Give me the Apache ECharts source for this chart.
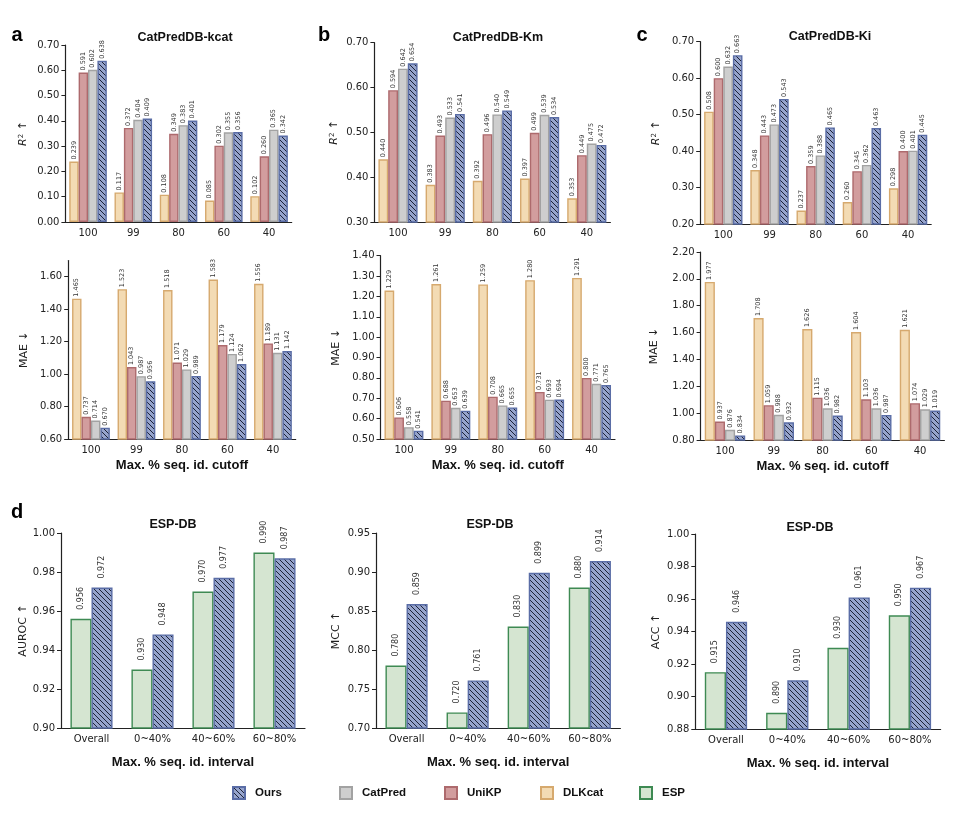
<!DOCTYPE html>
<html>
<head>
<meta charset="utf-8">
<script src="https://cdn.jsdelivr.net/npm/echarts@6/dist/echarts.min.js"></script>
<style>
  html, body { margin: 0; padding: 0; background: #fff; }
  #main { width: 960px; height: 818px; }
</style>
</head>
<body>
<div id="main"></div>
<script>
// categories
var cutoffs = ['100', '99', '80', '60', '40'];
var intervals = ['Overall', '0~40%', '40~60%', '60~80%'];

// rows in order: DLKcat, UniKP, CatPred, Ours
var kcatR2 = [
  [0.239, 0.117, 0.108, 0.085, 0.102],
  [0.591, 0.372, 0.349, 0.302, 0.260],
  [0.602, 0.404, 0.383, 0.355, 0.365],
  [0.638, 0.409, 0.401, 0.356, 0.342]
];
var kcatMAE = [
  [1.465, 1.523, 1.518, 1.583, 1.556],
  [0.737, 1.043, 1.071, 1.179, 1.189],
  [0.714, 0.987, 1.029, 1.124, 1.131],
  [0.670, 0.956, 0.989, 1.062, 1.142]
];
var kmR2 = [
  [0.440, 0.383, 0.392, 0.397, 0.353],
  [0.594, 0.493, 0.496, 0.499, 0.449],
  [0.642, 0.533, 0.540, 0.539, 0.475],
  [0.654, 0.541, 0.549, 0.534, 0.472]
];
var kmMAE = [
  [1.229, 1.261, 1.259, 1.280, 1.291],
  [0.606, 0.688, 0.708, 0.731, 0.800],
  [0.558, 0.653, 0.665, 0.693, 0.771],
  [0.541, 0.639, 0.655, 0.694, 0.765]
];
var kiR2 = [
  [0.508, 0.348, 0.237, 0.260, 0.298],
  [0.600, 0.443, 0.359, 0.345, 0.400],
  [0.632, 0.473, 0.388, 0.362, 0.401],
  [0.663, 0.543, 0.465, 0.463, 0.445]
];
var kiMAE = [
  [1.977, 1.708, 1.626, 1.604, 1.621],
  [0.937, 1.059, 1.115, 1.103, 1.074],
  [0.876, 0.988, 1.036, 1.036, 1.029],
  [0.834, 0.932, 0.982, 0.987, 1.019]
];
// rows: ESP, Ours
var espAUROC = [
  [0.956, 0.930, 0.970, 0.990],
  [0.972, 0.948, 0.977, 0.987]
];
var espMCC = [
  [0.780, 0.720, 0.830, 0.880],
  [0.859, 0.761, 0.899, 0.914]
];
var espACC = [
  [0.915, 0.890, 0.930, 0.950],
  [0.946, 0.910, 0.961, 0.967]
];

// tick labels
var ticksKcatR2 = [0, 0.1, 0.2, 0.3, 0.4, 0.5, 0.6, 0.7];
var ticksKcatMAE = [0.6, 0.8, 1.0, 1.2, 1.4, 1.6];
var ticksKmR2 = [0.3, 0.4, 0.5, 0.6, 0.7];
var ticksKmMAE = [0.5, 0.6, 0.7, 0.8, 0.9, 1.0, 1.1, 1.2, 1.3, 1.4];
var ticksKiR2 = [0.2, 0.3, 0.4, 0.5, 0.6, 0.7];
var ticksKiMAE = [0.8, 1.0, 1.2, 1.4, 1.6, 1.8, 2.0, 2.2];
var ticksAUROC = [0.90, 0.92, 0.94, 0.96, 0.98, 1.00];
var ticksMCC = [0.70, 0.75, 0.80, 0.85, 0.90, 0.95];
var ticksACC = [0.88, 0.90, 0.92, 0.94, 0.96, 0.98, 1.00];

// hatch for "Ours"
function hatch() {
  var s = 5;
  var c = document.createElement('canvas');
  c.width = s; c.height = s;
  var ctx = c.getContext('2d');
  ctx.fillStyle = '#96a4cc';
  ctx.fillRect(0, 0, s, s);
  ctx.strokeStyle = '#1c2238';
  ctx.lineWidth = 1;
  ctx.beginPath();
  [-s, 0, s].forEach(function (k) {
    ctx.moveTo(k, 0);
    ctx.lineTo(k + s, s);
  });
  ctx.stroke();
  return c;
}

var styles = {
  DLKcat: { color: '#f3dbb4', borderColor: '#d6a96e' },
  UniKP: { color: '#d29d9e', borderColor: '#ad6a6d' },
  CatPred: { color: '#cecece', borderColor: '#a2a2a2' },
  Ours: { color: { image: hatch(), repeat: 'repeat' }, borderColor: '#5a6da6' },
  ESP: { color: '#d5e5d1', borderColor: '#3e8a53' }
};

var tickFont = 'DejaVu Sans';
var boldFont = 'Liberation Sans';

var option = {
  animation: false,
  backgroundColor: '#fff',
  grid: [], xAxis: [], yAxis: [], series: [], legend: [], graphic: []
};

function addPanel(box, cats, rows, names, ticks, yName, nameGap, xName, xGap, opt) {
  var i = option.grid.length;
  option.grid.push({ left: box[0], top: box[1], width: box[2], height: box[3] });
  option.xAxis.push({
    type: 'category', gridIndex: i, data: cats,
    axisLine: { lineStyle: { color: '#222', width: 1.2 } },
    axisTick: { alignWithLabel: true, length: 4, lineStyle: { color: '#222' } },
    axisLabel: { color: '#222', fontFamily: tickFont, fontSize: opt.xFont, margin: 6 },
    name: xName, nameLocation: 'middle', nameGap: xGap,
    nameTextStyle: { fontFamily: boldFont, fontWeight: 'bold', fontSize: 13, color: '#111' }
  });
  option.yAxis.push({
    type: 'value', gridIndex: i,
    min: ticks[0], max: opt.max,
    axisLine: { show: true, lineStyle: { color: '#222', width: 1.2 } },
    axisTick: { show: true, length: 4, customValues: ticks, lineStyle: { color: '#222' } },
    axisLabel: {
      color: '#222', fontFamily: tickFont, fontSize: 10, margin: 6,
      customValues: ticks,
      formatter: function (v) { return v.toFixed(2); }
    },
    splitLine: { show: false },
    name: yName, nameLocation: 'middle', nameGap: nameGap,
    nameTextStyle: {
      fontFamily: tickFont, fontSize: 11, color: '#222',
      rich: { it: { fontFamily: tickFont, fontSize: 11, fontStyle: 'italic', color: '#222' },
              sup: { fontFamily: tickFont, fontSize: 7, color: '#222', verticalAlign: 'top' } }
    }
  });
  rows.forEach(function (vals, k) {
    var nm = names[k];
    option.series.push({
      type: 'bar', name: nm, xAxisIndex: i, yAxisIndex: i,
      data: vals,
      barGap: '0%', barCategoryGap: opt.gap,
      itemStyle: { color: styles[nm].color, borderColor: styles[nm].borderColor, borderWidth: 1.4 },
      label: {
        show: true, position: 'top', rotate: 90, align: 'left', verticalAlign: 'middle',
        distance: opt.labelDist, fontFamily: tickFont, fontSize: opt.labelFont, color: '#333',
        formatter: function (p) { return p.value.toFixed(3); }
      }
    });
  });
}

var four = ['DLKcat', 'UniKP', 'CatPred', 'Ours'];
var two = ['ESP', 'Ours'];
var xCut = 'Max. % seq. id. cutoff';
var xInt = 'Max. % seq. id. interval';
var r2Name = '{it|R}{sup|2} ↑';
var topOpt = { xFont: 10, gap: '17%', labelDist: 2, labelFont: 6.5 };

addPanel([65.4, 45, 226.3, 177], cutoffs, kcatR2, four, ticksKcatR2, r2Name, 37, '', 0,
  Object.assign({ max: 0.7 }, topOpt));
addPanel([68.2, 260.5, 227.5, 178.5], cutoffs, kcatMAE, four, ticksKcatMAE, 'MAE ↓', 39, xCut, 20,
  Object.assign({ max: 1.7 }, topOpt));
addPanel([374.4, 42.7, 236, 179.3], cutoffs, kmR2, four, ticksKmR2, r2Name, 35, '', 0,
  Object.assign({ max: 0.7 }, topOpt));
addPanel([380.5, 255.7, 234.5, 183.3], cutoffs, kmMAE, four, ticksKmMAE, 'MAE ↓', 39, xCut, 20,
  Object.assign({ max: 1.4 }, topOpt));
addPanel([700.2, 41.7, 231, 182.3], cutoffs, kiR2, four, ticksKiR2, r2Name, 39, '', 0,
  Object.assign({ max: 0.7 }, topOpt));
addPanel([700.6, 252, 243.8, 188], cutoffs, kiMAE, four, ticksKiMAE, 'MAE ↓', 41, xCut, 20,
  Object.assign({ max: 2.2 }, topOpt));

var dOpt = { xFont: 10, gap: '31%', labelDist: 9, labelFont: 8 };
addPanel([61, 533, 244, 195], intervals, espAUROC, two, ticksAUROC, 'AUROC ↑', 32, xInt, 28,
  Object.assign({ max: 1.0 }, dOpt));
addPanel([376, 533, 244.4, 195], intervals, espMCC, two, ticksMCC, 'MCC ↑', 34, xInt, 28,
  Object.assign({ max: 0.95 }, dOpt));
addPanel([695.3, 534, 245.3, 195], intervals, espACC, two, ticksACC, 'ACC ↑', 34, xInt, 28,
  Object.assign({ max: 1.0 }, dOpt));

// panel titles and letters
var titles = [
  ['CatPredDB-kcat', 185, 38], ['CatPredDB-Km', 498, 38], ['CatPredDB-Ki', 830, 37],
  ['ESP-DB', 173, 525], ['ESP-DB', 490, 525], ['ESP-DB', 810, 528]
];
titles.forEach(function (t) {
  option.graphic.push({
    type: 'text', x: t[1], y: t[2],
    style: { text: t[0], font: 'bold 12.5px "Liberation Sans"', fill: '#111',
             textAlign: 'center', textVerticalAlign: 'middle' }
  });
});
[['a', 17, 35], ['b', 324, 35], ['c', 642, 35], ['d', 17, 512]].forEach(function (t) {
  option.graphic.push({
    type: 'text', x: t[1], y: t[2],
    style: { text: t[0], font: 'bold 20px "Liberation Sans"', fill: '#000',
             textAlign: 'center', textVerticalAlign: 'middle' }
  });
});

// legend, one block per entry
[['Ours', 232], ['CatPred', 339], ['UniKP', 444], ['DLKcat', 540], ['ESP', 639]].forEach(function (l) {
  option.legend.push({
    data: [l[0]], left: l[1], top: 786, itemWidth: 12, itemHeight: 12, icon: 'rect',
    selectedMode: false, padding: 0,
    textStyle: { fontFamily: boldFont, fontWeight: 'bold', fontSize: 11.5, color: '#111',
                 padding: [0, 0, 0, 5] }
  });
});

var chart = echarts.init(document.getElementById('main'));
chart.setOption(option);
</script>
</body>
</html>
